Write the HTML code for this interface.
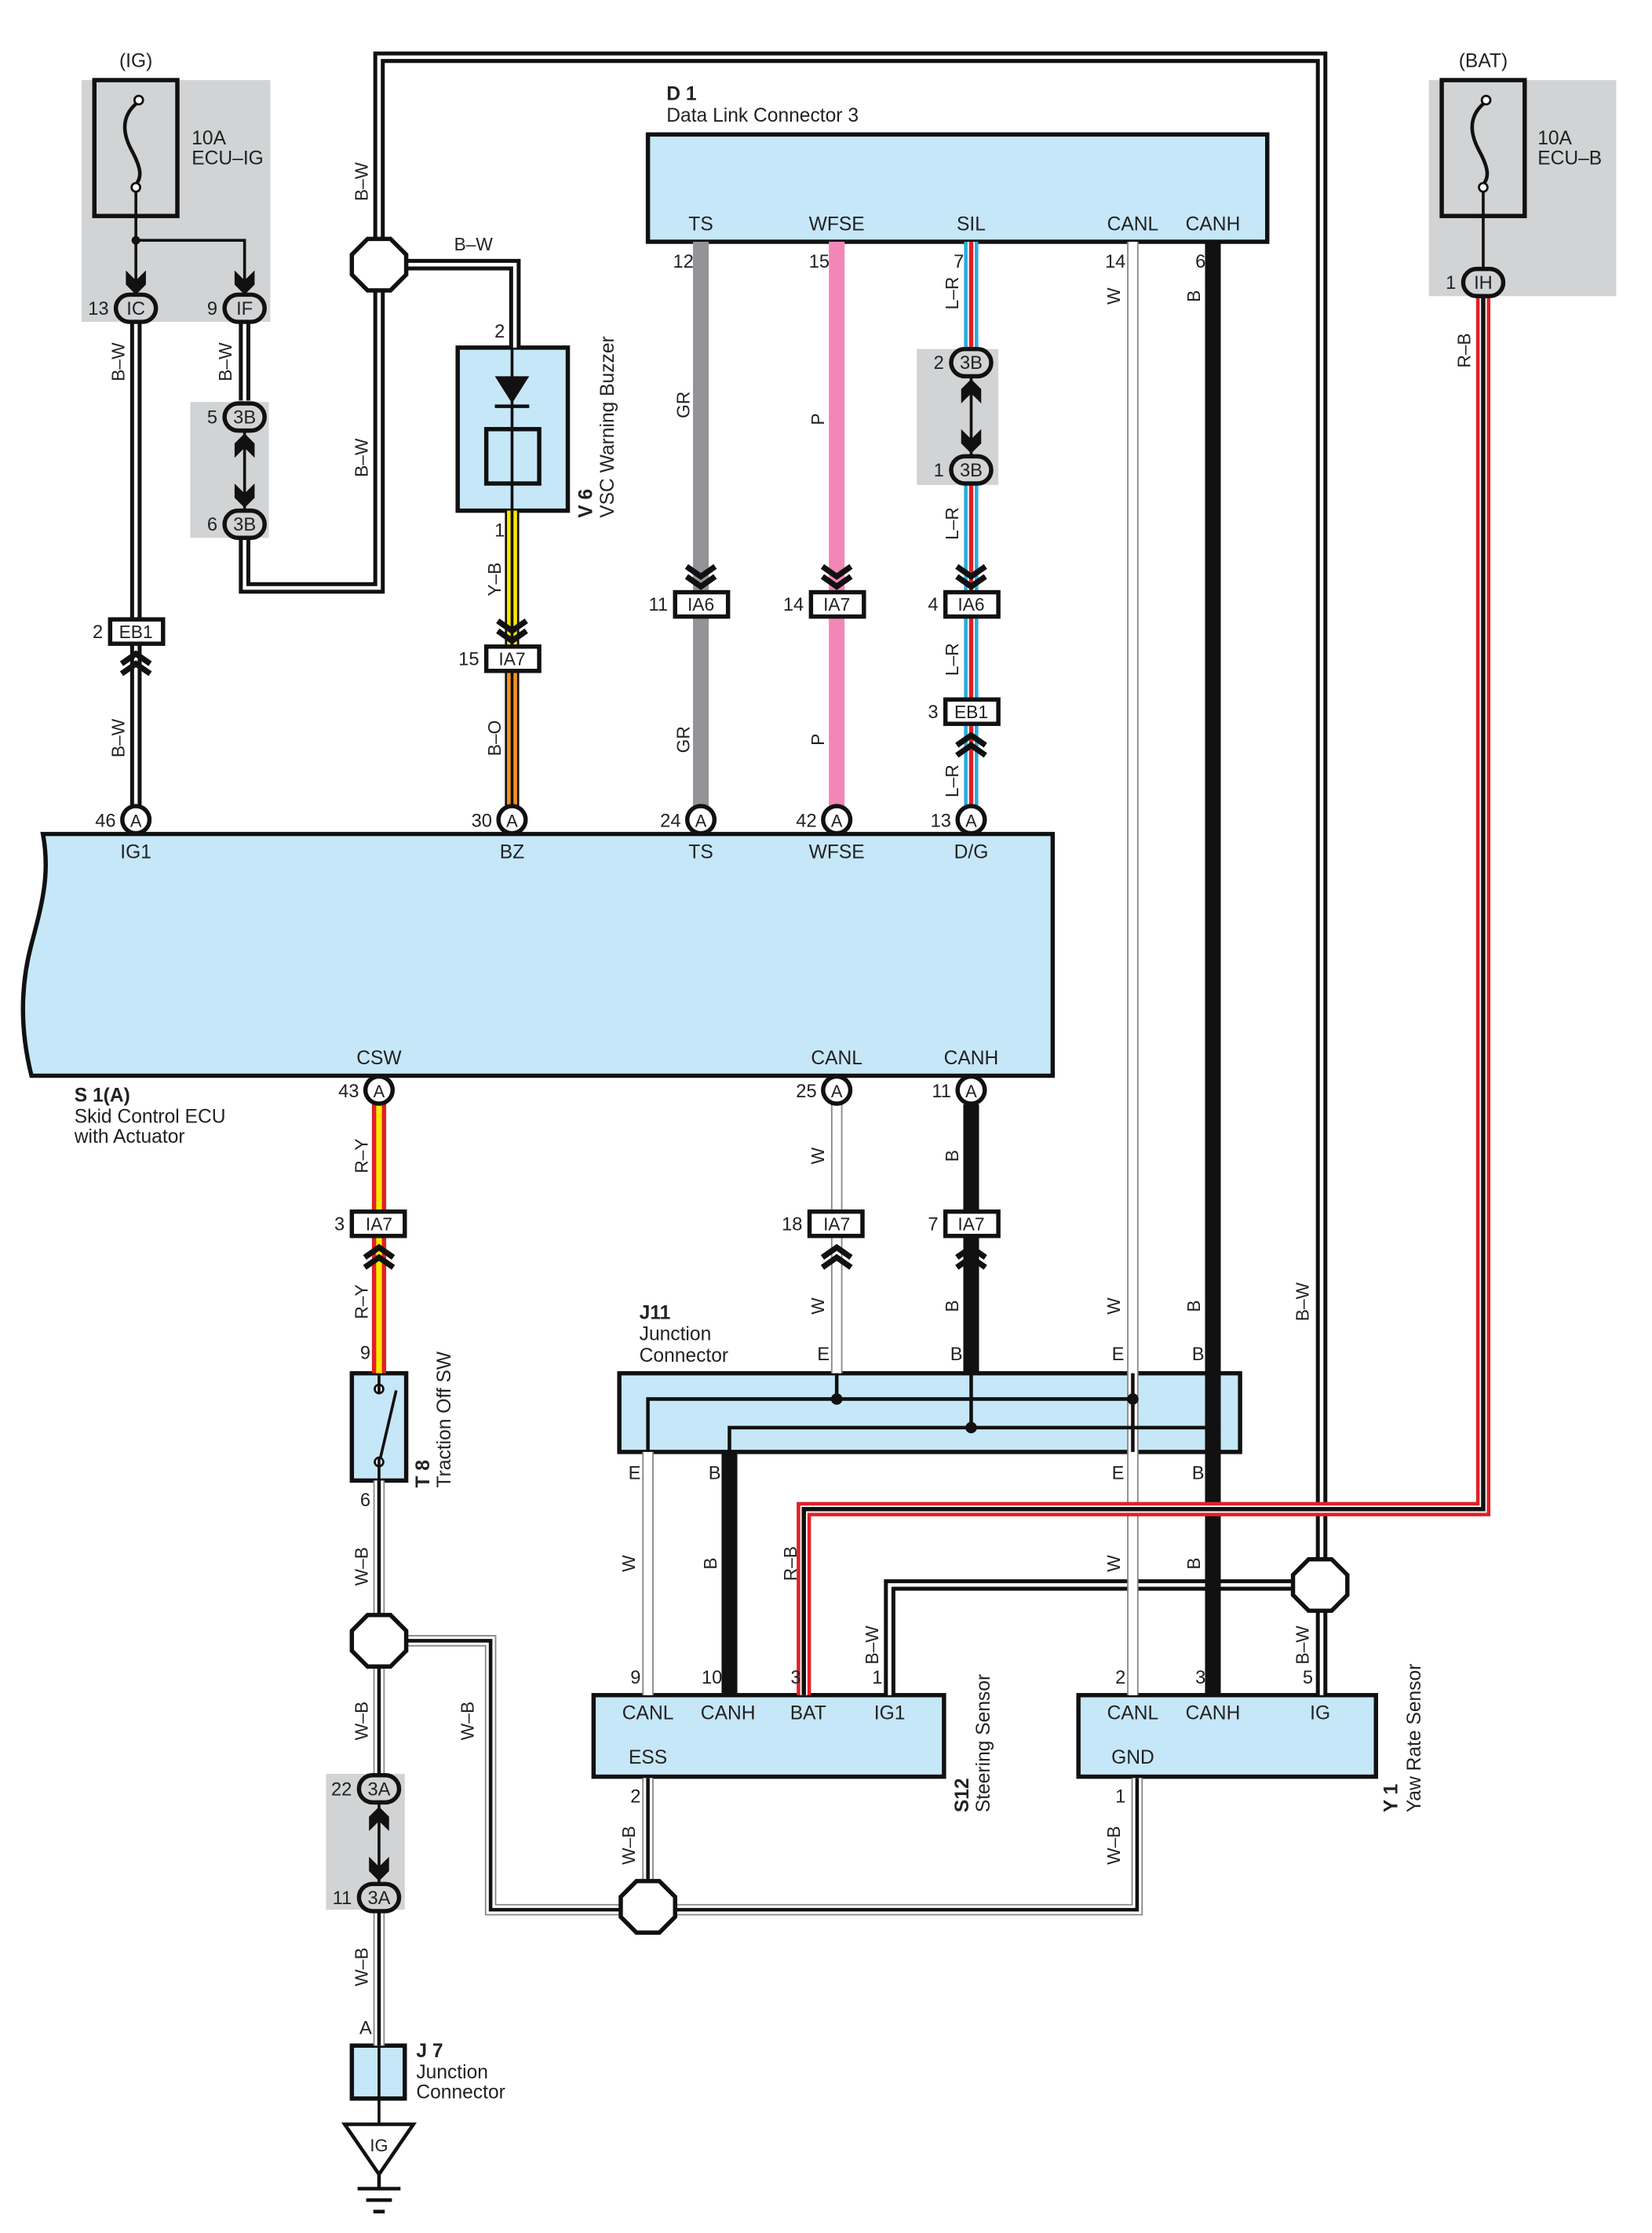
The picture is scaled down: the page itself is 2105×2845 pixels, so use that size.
<!DOCTYPE html>
<html><head><meta charset="utf-8"><style>
html,body{margin:0;padding:0;background:#fff}
svg{display:block}
text{font-family:"Liberation Sans",Arial,sans-serif;fill:#222}
.f{fill:none;stroke-linejoin:miter;stroke-linecap:butt}
</style></head><body>
<svg width="2105" height="2845" viewBox="0 0 1155 1561" preserveAspectRatio="none" xmlns="http://www.w3.org/2000/svg">
<rect width="1155" height="1561" fill="#fff"/>

<rect x="57" y="56" width="132" height="169" fill="#d1d3d4"/>
<rect x="133" y="281" width="55" height="95" fill="#d1d3d4"/>
<rect x="641" y="244" width="57" height="95" fill="#d1d3d4"/>
<rect x="228" y="1240" width="55" height="95" fill="#d1d3d4"/>
<rect x="999" y="56" width="131" height="151" fill="#d1d3d4"/>

<rect x="453" y="94" width="433" height="75" fill="#c6e7f8" stroke="#111" stroke-width="3"/>
<rect x="320" y="243" width="77" height="114" fill="#c6e7f8" stroke="#111" stroke-width="3"/>
<path d="M30,583 H736 V752 H22 C14,720 14,690 22,660 C30,630 35,610 30,583 Z" fill="#c6e7f8" stroke="#111" stroke-width="3"/>
<rect x="246" y="960" width="38" height="75" fill="#c6e7f8" stroke="#111" stroke-width="3"/>
<rect x="433" y="960" width="434" height="55" fill="#c6e7f8" stroke="#111" stroke-width="3"/>
<rect x="415" y="1185" width="245" height="57" fill="#c6e7f8" stroke="#111" stroke-width="3"/>
<rect x="754" y="1185" width="208" height="57" fill="#c6e7f8" stroke="#111" stroke-width="3"/>
<rect x="246" y="1430" width="37" height="37" fill="#c6e7f8" stroke="#111" stroke-width="3"/>

<rect x="66" y="56" width="58" height="95" fill="none" stroke="#111" stroke-width="3"/>
<path class="f" d="M97,71 C85,80 85,92 92,105 C99,118 100,125 93,131" stroke="#111" stroke-width="2.5"/>
<circle cx="97" cy="70" r="3" fill="#fff" stroke="#111" stroke-width="1.5"/>
<circle cx="95" cy="131" r="3" fill="#fff" stroke="#111" stroke-width="1.5"/>
<rect x="1008" y="56" width="58" height="95" fill="none" stroke="#111" stroke-width="3"/>
<path class="f" d="M1039,71 C1027,80 1027,92 1034,105 C1041,118 1042,125 1035,131" stroke="#111" stroke-width="2.5"/>
<circle cx="1039" cy="70" r="3" fill="#fff" stroke="#111" stroke-width="1.5"/>
<circle cx="1037" cy="131" r="3" fill="#fff" stroke="#111" stroke-width="1.5"/>

<g class="f" stroke="#111" stroke-width="2">
<path d="M95,134 V200 M95,168 H171 V200"/>
<path d="M1037,134 V200"/>
<path d="M171,300 V357 M679,262 V318 M265,1260 V1316"/>
<path d="M358,243 V357"/>
</g>
<circle cx="95" cy="168" r="3" fill="#111"/>

<g class="f">
<path d="M171,376 V411 H265 V40 H924 V1185 M284,185 H360 V243 M95,225 V565 M171,225 V280 M622,1185 V1108 H905" stroke="#111" stroke-width="8"/>
<path d="M171,376 V411 H265 V40 H924 V1185 M284,185 H360 V243 M95,225 V565 M171,225 V280 M622,1185 V1108 H905" stroke="#fff" stroke-width="2.5"/>
</g>
<g class="f">
<path d="M265,1035 V1240 M265,1335 V1430 M284,1147 H343 V1335 H795 V1243 M453,1243 V1335" stroke="#888" stroke-width="8"/>
<path d="M265,1035 V1240 M265,1335 V1430 M284,1147 H343 V1335 H795 V1243 M453,1243 V1335" stroke="#fff" stroke-width="6"/>
<path d="M265,1035 V1240 M265,1335 V1430 M284,1147 H343 V1335 H795 V1243 M453,1243 V1335" stroke="#111" stroke-width="2.5"/>
<path d="M265,1467 V1485" stroke="#111" stroke-width="2"/>
</g>
<g class="f">
<path d="M792,169 V1185 M585,772 V960 M453,1015 V1185" stroke="#888" stroke-width="8"/>
<path d="M792,169 V1185 M585,772 V960 M453,1015 V1185" stroke="#fff" stroke-width="6"/>
</g>
<path class="f" d="M848,169 V1185 M679,772 V960 M510,1015 V1185" stroke="#111" stroke-width="11"/>
<path class="f" d="M490,169 V413 M490,431 V565" stroke="#929497" stroke-width="11"/>
<path class="f" d="M585,169 V413 M585,431 V565" stroke="#f287b7" stroke-width="11"/>
<g class="f">
<path d="M679,169 V244 M679,339 V565" stroke="#29abe2" stroke-width="10"/>
<path d="M679,169 V244 M679,339 V565" stroke="#fff" stroke-width="5"/>
<path d="M679,169 V244 M679,339 V565" stroke="#e02028" stroke-width="3"/>
</g>
<g class="f">
<path d="M1037,207 V1055 H562 V1185" stroke="#e02028" stroke-width="10"/>
<path d="M1037,207 V1055 H562 V1185" stroke="#fff" stroke-width="5"/>
<path d="M1037,207 V1055 H562 V1185" stroke="#111" stroke-width="3"/>
</g>
<g class="f">
<path d="M358,357 V452" stroke="#111" stroke-width="10"/>
<path d="M358,357 V452" stroke="#ffe600" stroke-width="7"/>
<path d="M358,357 V452" stroke="#111" stroke-width="2"/>
<path d="M358,469 V565" stroke="#111" stroke-width="10"/>
<path d="M358,469 V565" stroke="#f7941d" stroke-width="7"/>
<path d="M358,469 V565" stroke="#111" stroke-width="2"/>
<path d="M265,772 V960" stroke="#e02028" stroke-width="10"/>
<path d="M265,772 V960" stroke="#ffe600" stroke-width="4"/>
</g>

<g class="f" stroke="#111" stroke-width="2.5">
<path d="M453,1015 V978 H792"/>
<path d="M510,1015 V998 H848"/>
<path d="M585,960 V978 M679,960 V998"/>
<path d="M792,960 V1015 M848,960 V1015"/>
</g>
<g fill="#111"><circle cx="585" cy="978" r="4"/><circle cx="792" cy="978" r="4"/><circle cx="679" cy="998" r="4"/><circle cx="848" cy="998" r="4"/></g>

<polygon points="346,263 370,263 358,282" fill="#111"/>
<path d="M346,284 H370" stroke="#111" stroke-width="2.5"/>
<rect x="340" y="300" width="37" height="38" fill="none" stroke="#111" stroke-width="3"/>

<circle cx="265" cy="971" r="3" fill="#fff" stroke="#111" stroke-width="1.5"/>
<circle cx="265" cy="1022" r="3" fill="#fff" stroke="#111" stroke-width="1.5"/>
<path d="M265,974 V960 M265,1019 V1035 M266,1019 L277,972" stroke="#111" stroke-width="2"/>
<path d="M265,1430 V1467" stroke="#111" stroke-width="2"/>
<polygon points="241,1485 289,1485 265,1520" fill="#fff" stroke="#111" stroke-width="2.5"/>
<text x="265" y="1504" font-size="12" text-anchor="middle">IG</text>
<path d="M265,1520 V1530 M250,1530 H280 M256,1538 H274 M261,1546 H269" stroke="#111" stroke-width="2.5"/>

<g fill="#fff" stroke="#111" stroke-width="3">
<polygon points="257,167 273,167 284,178 284,192 273,203 257,203 246,192 246,178"/>
<polygon points="915,1090 931,1090 942,1101 942,1115 931,1126 915,1126 904,1115 904,1101"/>
<polygon points="257,1129 273,1129 284,1140 284,1154 273,1165 257,1165 246,1154 246,1140"/>
<polygon points="445,1315 461,1315 472,1326 472,1340 461,1351 445,1351 434,1340 434,1326"/>
</g>

<g fill="#111">
<polygon points="88,189 95,196 102,189 102,199 95,206 88,199"/>
<polygon points="164,189 171,196 178,189 178,199 171,206 164,199"/>
<polygon points="1030,189 1037,196 1044,189 1044,199 1037,206 1030,199"/>
<polygon points="164,310 171,303 178,310 178,320 171,313 164,320"/>
<polygon points="164,338 171,345 178,338 178,348 171,355 164,348"/>
<polygon points="672,272 679,265 686,272 686,282 679,275 672,282"/>
<polygon points="672,300 679,307 686,300 686,310 679,317 672,310"/>
<polygon points="258,1270 265,1263 272,1270 272,1280 265,1273 258,1280"/>
<polygon points="258,1298 265,1305 272,1298 272,1308 265,1315 258,1308"/>
</g>

<g class="f" stroke="#111" stroke-width="4">
<path d="M480,396 L490,403 L500,396 M480,403 L490,410 L500,403"/>
<path d="M575,396 L585,403 L595,396 M575,403 L585,410 L595,403"/>
<path d="M669,396 L679,403 L689,396 M669,403 L679,410 L689,403"/>
<path d="M348,434 L358,441 L368,434 M348,441 L358,448 L368,441"/>
<path d="M85,464 L95,457 L105,464 M85,471 L95,464 L105,471"/>
<path d="M669,521 L679,514 L689,521 M669,528 L679,521 L689,528"/>
<path d="M255,879 L265,872 L275,879 M255,886 L265,879 L275,886"/>
<path d="M575,879 L585,872 L595,879 M575,886 L585,879 L595,886"/>
<path d="M669,879 L679,872 L689,879 M669,886 L679,879 L689,886"/>
</g>

<g stroke="#111" stroke-width="3" fill="#d1d3d4">
<rect x="81" y="206" width="28" height="19" rx="9.5"/>
<rect x="157" y="206" width="28" height="19" rx="9.5"/>
<rect x="157" y="282" width="28" height="19" rx="9.5"/>
<rect x="157" y="357" width="28" height="19" rx="9.5"/>
<rect x="665" y="244" width="28" height="19" rx="9.5"/>
<rect x="665" y="319" width="28" height="19" rx="9.5"/>
<rect x="251" y="1241" width="28" height="19" rx="9.5"/>
<rect x="251" y="1317" width="28" height="19" rx="9.5"/>
<rect x="1023" y="188" width="28" height="19" rx="9.5"/>
</g>
<g font-size="13" text-anchor="middle">
<text x="95" y="220">IC</text><text x="171" y="220">IF</text>
<text x="171" y="296">3B</text><text x="171" y="371">3B</text>
<text x="679" y="258">3B</text><text x="679" y="333">3B</text>
<text x="265" y="1255">3A</text><text x="265" y="1331">3A</text>
<text x="1037" y="202">IH</text>
</g>

<g stroke="#111" stroke-width="3" fill="#fff">
<rect x="77" y="433" width="37" height="17"/>
<rect x="340" y="452" width="37" height="17"/>
<rect x="472" y="414" width="37" height="17"/>
<rect x="567" y="414" width="37" height="17"/>
<rect x="661" y="414" width="37" height="17"/>
<rect x="661" y="489" width="37" height="17"/>
<rect x="246" y="847" width="37" height="17"/>
<rect x="566" y="847" width="37" height="17"/>
<rect x="661" y="847" width="37" height="17"/>
</g>
<g font-size="12.5" text-anchor="middle">
<text x="95" y="446">EB1</text><text x="358" y="465">IA7</text>
<text x="490" y="427">IA6</text><text x="585" y="427">IA7</text><text x="679" y="427">IA6</text>
<text x="679" y="502">EB1</text>
<text x="265" y="860">IA7</text><text x="585" y="860">IA7</text><text x="679" y="860">IA7</text>
</g>

<g stroke="#111" stroke-width="3" fill="#fff">
<circle cx="95" cy="573" r="9.5"/><circle cx="358" cy="573" r="9.5"/><circle cx="490" cy="573" r="9.5"/>
<circle cx="585" cy="573" r="9.5"/><circle cx="679" cy="573" r="9.5"/>
<circle cx="265" cy="762" r="9.5"/><circle cx="585" cy="762" r="9.5"/><circle cx="679" cy="762" r="9.5"/>
</g>
<g font-size="12" text-anchor="middle">
<text x="95" y="578">A</text><text x="358" y="578">A</text><text x="490" y="578">A</text><text x="585" y="578">A</text><text x="679" y="578">A</text>
<text x="265" y="767">A</text><text x="585" y="767">A</text><text x="679" y="767">A</text>
</g>

<g font-size="13" text-anchor="end">
<text x="76" y="220">13</text><text x="152" y="220">9</text>
<text x="152" y="296">5</text><text x="152" y="371">6</text>
<text x="660" y="258">2</text><text x="660" y="333">1</text>
<text x="246" y="1255">22</text><text x="246" y="1331">11</text>
<text x="1018" y="202">1</text>
<text x="72" y="446">2</text><text x="335" y="465">15</text><text x="467" y="427">11</text><text x="562" y="427">14</text><text x="656" y="427">4</text><text x="656" y="502">3</text>
<text x="241" y="860">3</text><text x="561" y="860">18</text><text x="656" y="860">7</text>
<text x="81" y="578">46</text><text x="344" y="578">30</text><text x="476" y="578">24</text><text x="571" y="578">42</text><text x="665" y="578">13</text>
<text x="251" y="767">43</text><text x="571" y="767">25</text><text x="665" y="767">11</text>
<text x="485" y="187">12</text><text x="580" y="187">15</text><text x="674" y="187">7</text><text x="787" y="187">14</text><text x="843" y="187">6</text>
<text x="353" y="236">2</text><text x="353" y="375">1</text>
<text x="259" y="950">9</text><text x="259" y="1053">6</text>
<text x="448" y="1177">9</text><text x="505" y="1177">10</text><text x="560" y="1177">3</text><text x="617" y="1177">1</text>
<text x="448" y="1260">2</text>
<text x="787" y="1177">2</text><text x="843" y="1177">3</text><text x="918" y="1177">5</text>
<text x="787" y="1260">1</text>
<text x="260" y="1422">A</text>
<text x="580" y="951">E</text><text x="673" y="951">B</text><text x="786" y="951">E</text><text x="842" y="951">B</text>
<text x="448" y="1034">E</text><text x="504" y="1034">B</text><text x="786" y="1034">E</text><text x="842" y="1034">B</text>
</g>

<g font-size="13.5" text-anchor="middle">
<text x="490" y="161">TS</text><text x="585" y="161">WFSE</text><text x="679" y="161">SIL</text><text x="792" y="161">CANL</text><text x="848" y="161">CANH</text>
<text x="95" y="600">IG1</text><text x="358" y="600">BZ</text><text x="490" y="600">TS</text><text x="585" y="600">WFSE</text><text x="679" y="600">D/G</text>
<text x="265" y="744">CSW</text><text x="585" y="744">CANL</text><text x="679" y="744">CANH</text>
<text x="453" y="1202">CANL</text><text x="509" y="1202">CANH</text><text x="565" y="1202">BAT</text><text x="622" y="1202">IG1</text>
<text x="453" y="1233">ESS</text>
<text x="792" y="1202">CANL</text><text x="848" y="1202">CANH</text><text x="923" y="1202">IG</text>
<text x="792" y="1233">GND</text>
<text x="95" y="47">(IG)</text><text x="1037" y="47">(BAT)</text>
</g>
<g font-size="13.5">
<text x="134" y="101">10A</text><text x="134" y="115">ECU–IG</text>
<text x="1075" y="101">10A</text><text x="1075" y="115">ECU–B</text>
<text x="466" y="70" font-weight="bold">D 1</text><text x="466" y="85">Data Link Connector 3</text>
<text x="52" y="770" font-weight="bold">S 1(A)</text><text x="52" y="785">Skid Control ECU</text><text x="52" y="799">with Actuator</text>
<text x="447" y="922" font-weight="bold">J11</text><text x="447" y="937">Junction</text><text x="447" y="952">Connector</text>
<text x="291" y="1438" font-weight="bold">J 7</text><text x="291" y="1453">Junction</text><text x="291" y="1467">Connector</text>
</g>
<g font-size="13.5">
<text transform="translate(414,362) rotate(-90)" font-weight="bold">V 6</text>
<text transform="translate(429,362) rotate(-90)">VSC Warning Buzzer</text>
<text transform="translate(300,1040) rotate(-90)" font-weight="bold">T 8</text>
<text transform="translate(315,1040) rotate(-90)">Traction Off SW</text>
<text transform="translate(677,1267) rotate(-90)" font-weight="bold">S12</text>
<text transform="translate(692,1267) rotate(-90)">Steering Sensor</text>
<text transform="translate(977,1267) rotate(-90)" font-weight="bold">Y 1</text>
<text transform="translate(993,1267) rotate(-90)">Yaw Rate Sensor</text>
</g>
<g font-size="12.5" text-anchor="middle">
<text transform="translate(257,127) rotate(-90)">B–W</text>
<text transform="translate(257,320) rotate(-90)">B–W</text>
<text transform="translate(87,253) rotate(-90)">B–W</text>
<text transform="translate(162,253) rotate(-90)">B–W</text>
<text transform="translate(87,516) rotate(-90)">B–W</text>
<text transform="translate(350,405) rotate(-90)">Y–B</text>
<text transform="translate(350,516) rotate(-90)">B–O</text>
<text transform="translate(482,283) rotate(-90)">GR</text>
<text transform="translate(482,517) rotate(-90)">GR</text>
<text transform="translate(576,293) rotate(-90)">P</text>
<text transform="translate(576,517) rotate(-90)">P</text>
<text transform="translate(670,205) rotate(-90)">L–R</text>
<text transform="translate(670,366) rotate(-90)">L–R</text>
<text transform="translate(670,461) rotate(-90)">L–R</text>
<text transform="translate(670,546) rotate(-90)">L–R</text>
<text transform="translate(783,207) rotate(-90)">W</text>
<text transform="translate(839,207) rotate(-90)">B</text>
<text transform="translate(1028,245) rotate(-90)">R–B</text>
<text transform="translate(257,808) rotate(-90)">R–Y</text>
<text transform="translate(257,910) rotate(-90)">R–Y</text>
<text transform="translate(576,808) rotate(-90)">W</text>
<text transform="translate(576,913) rotate(-90)">W</text>
<text transform="translate(670,808) rotate(-90)">B</text>
<text transform="translate(670,913) rotate(-90)">B</text>
<text transform="translate(783,913) rotate(-90)">W</text>
<text transform="translate(839,913) rotate(-90)">B</text>
<text transform="translate(915,910) rotate(-90)">B–W</text>
<text transform="translate(444,1093) rotate(-90)">W</text>
<text transform="translate(501,1093) rotate(-90)">B</text>
<text transform="translate(557,1093) rotate(-90)">R–B</text>
<text transform="translate(614,1150) rotate(-90)">B–W</text>
<text transform="translate(783,1093) rotate(-90)">W</text>
<text transform="translate(839,1093) rotate(-90)">B</text>
<text transform="translate(915,1150) rotate(-90)">B–W</text>
<text transform="translate(257,1095) rotate(-90)">W–B</text>
<text transform="translate(257,1203) rotate(-90)">W–B</text>
<text transform="translate(331,1203) rotate(-90)">W–B</text>
<text transform="translate(257,1375) rotate(-90)">W–B</text>
<text transform="translate(444,1290) rotate(-90)">W–B</text>
<text transform="translate(783,1290) rotate(-90)">W–B</text>
<text transform="translate(331,175)">B–W</text>
</g>
</svg>
</body></html>
